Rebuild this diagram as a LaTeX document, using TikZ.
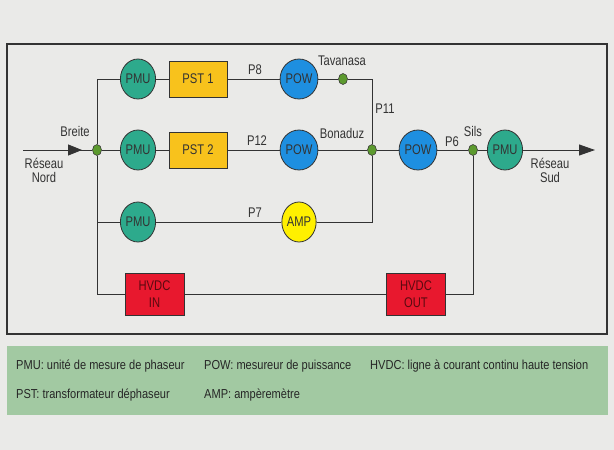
\documentclass[tikz,border=0pt]{standalone}
\usepackage{fontspec}
\setmainfont{Liberation Sans}[FakeStretch=0.8]
\newfontfamily\legfont{Liberation Sans}[FakeStretch=0.85]
\usetikzlibrary{shapes.geometric,arrows.meta}
\definecolor{bgc}{HTML}{EAEAE8}
\definecolor{legc}{HTML}{A2C9A2}
\definecolor{pmuc}{HTML}{2DAA8C}
\definecolor{powc}{HTML}{1E8FE0}
\definecolor{pstc}{HTML}{F8C21C}
\definecolor{ampc}{HTML}{FFF000}
\definecolor{hvdcc}{HTML}{E8182E}
\definecolor{dotc}{HTML}{5C9A2E}
\definecolor{linec}{HTML}{333333}
\definecolor{hvdctext}{HTML}{5A0A10}
\tikzset{
  every node/.style={font=\fontsize{14}{15}\selectfont, text=linec},
  meter/.style={ellipse, draw=linec, line width=0.8pt, minimum width=32pt, minimum height=40pt, inner sep=0pt},
  pmu/.style={meter, fill=pmuc},
  pow/.style={meter, fill=powc},
  amp/.style={meter, fill=ampc},
  pstbox/.style={rectangle, draw=linec, line width=0.8pt, fill=pstc, minimum width=58pt, minimum height=36pt, inner sep=0pt},
  hvdcbox/.style={rectangle, draw=linec, line width=0.8pt, fill=hvdcc, minimum width=59pt, minimum height=42pt, inner sep=0pt, align=center, text=hvdctext, font=\fontsize{14}{17}\selectfont},
  busdot/.style={ellipse, draw=linec, line width=0.6pt, fill=dotc, minimum width=9pt, minimum height=11pt, inner sep=0pt},
  wire/.style={draw=linec, line width=0.9pt},
  lbl/.style={inner sep=0pt},
  legtext/.style={anchor=west, inner sep=0pt, text=black!85, font=\legfont\fontsize{13}{14}\selectfont},
}
\begin{document}
\begin{tikzpicture}[x=1pt,y=-1pt]
\useasboundingbox (0,0) rectangle (614,450);
\fill[bgc] (0,0) rectangle (614,450);
% frame
\node[draw=linec, line width=1.4pt, minimum width=600pt, minimum height=290pt, inner sep=0pt] (frame) at (307,189) {};
% legend box
\node[fill=legc, minimum width=601pt, minimum height=69pt, inner sep=0pt] (legend) at (307.5,380.5) {};

% nodes
\node[busdot] (breite) at (97,150) {};
\node[busdot] (tav) at (343,79) {};
\node[busdot] (bon) at (372,150) {};
\node[busdot] (sils) at (473,150) {};

\node[pmu] (pmu1) at (138,79) {PMU};
\node[pstbox] (pst1) at (198,79) {PST 1};
\node[pow] (pow1) at (299,79) {POW};

\node[pmu] (pmu2) at (138,150) {PMU};
\node[pstbox] (pst2) at (198,150) {PST 2};
\node[pow] (pow2) at (299,150) {POW};

\node[pow] (pow3) at (418,150) {POW};
\node[pmu] (pmu4) at (505,150) {PMU};

\node[pmu] (pmu3) at (138,222) {PMU};
\node[amp] (amp) at (299,222) {AMP};

\node[hvdcbox] (hvdcin) at (154.5,294) {HVDC\\IN};
\node[hvdcbox] (hvdcout) at (416,294) {HVDC\\OUT};

\coordinate (rn) at (23,150);
\coordinate (rntip) at (82,150);
\coordinate (rs) at (595,150);

% connectors
\draw[wire] (rn) -- (breite);
\draw[wire, -{Triangle[length=14pt,width=11pt]}] (rn) -- (rntip);
\draw[wire] (breite) -- (pmu2);
\draw[wire] (pmu1.west) -| (breite.north);
\draw[wire] (pmu3.west) -| (breite.south);
\draw[wire] (hvdcin.west) -| (breite.south);

\draw[wire] (pmu1) -- (pst1);
\draw[wire] (pst1) -- (pow1);
\draw[wire] (pow1) -- (tav);
\draw[wire] (tav) -| (bon);

\draw[wire] (pmu2) -- (pst2);
\draw[wire] (pst2) -- (pow2);
\draw[wire] (pow2) -- (bon);
\draw[wire] (bon) -- (pow3);
\draw[wire] (pow3) -- (sils);
\draw[wire] (sils) -- (pmu4);
\draw[wire, -{Triangle[length=16pt,width=11pt]}] (pmu4) -- (rs);

\draw[wire] (pmu3) -- (amp);
\draw[wire] (amp) -| (bon);

\draw[wire] (hvdcin) -- (hvdcout);
\draw[wire] (hvdcout) -| (sils);

% labels
\node[lbl] (lp8) at (255,70) {P8};
\node[lbl] (lp12) at (257,141) {P12};
\node[lbl] (lp7) at (255,213) {P7};
\node[lbl] (lp11) at (385,109) {P11};
\node[lbl] (lp6) at (452,142) {P6};
\node[lbl] (ltav) at (342,61) {Tavanasa};
\node[lbl] (lbon) at (342,133) {Bonaduz};
\node[lbl] (lsils) at (473,131) {Sils};
\node[lbl] (lbreite) at (75,131) {Breite};
\node[lbl, align=center, font=\fontsize{14}{14}\selectfont] (lnord) at (44,170) {Réseau\\Nord};
\node[lbl, align=center, font=\fontsize{14}{14}\selectfont] (lsud) at (550,170) {Réseau\\Sud};

% legend text
\node[legtext] (l1) at (16,366) {PMU: unité de mesure de phaseur};
\node[legtext] (l2) at (204,366) {POW: mesureur de puissance};
\node[legtext] (l3) at (370,366) {HVDC: ligne à courant continu haute tension};
\node[legtext] (l4) at (16,395) {PST: transformateur déphaseur};
\node[legtext] (l5) at (204,395) {AMP: ampèremètre};
\end{tikzpicture}
\end{document}
